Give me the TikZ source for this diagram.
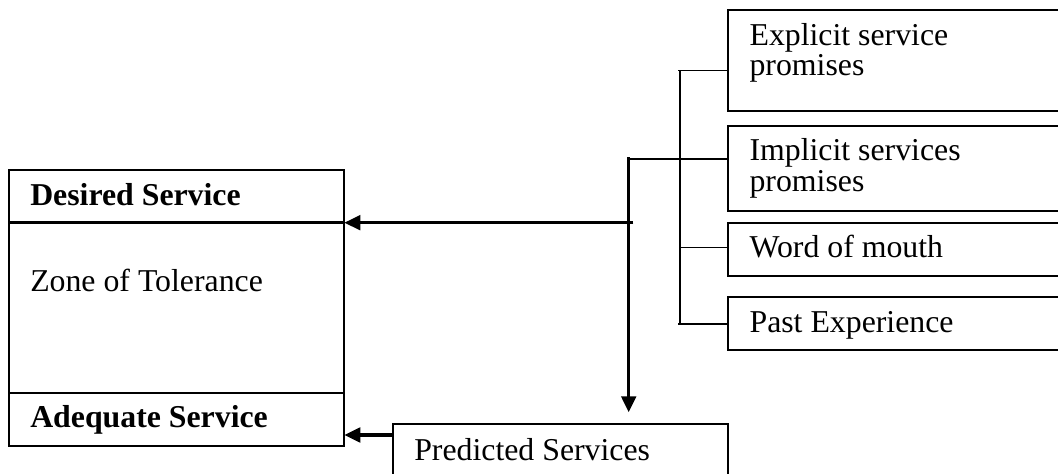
\documentclass[tikz,border=0pt]{standalone}
\usepackage{fontspec}
\setmainfont{Liberation Serif}
\usetikzlibrary{arrows.meta,calc}
\begin{document}
\begin{tikzpicture}[x=0.75pt,y=-0.75pt,
  boxst/.style={draw,line width=1.5pt,rectangle,inner sep=0pt,outer sep=0pt,anchor=north west},
  txt/.style={anchor=base west,inner sep=0pt,font=\fontsize{23.85pt}{25pt}\selectfont},
  btxt/.style={txt,font=\fontsize{23.85pt}{25pt}\selectfont\bfseries},
  thinln/.style={line width=1.1pt},
  thickln/.style={line width=2.3pt},
  arr/.style={thickln,-{Triangle[length=12pt,width=11pt]}}]
\useasboundingbox (0,0) rectangle (1058,474);
\clip (0,0) rectangle (1058,474);
% left box
\node[boxst,minimum width=251.5pt,minimum height=207pt] (L) at (9,170) {};
\draw[line width=1.8pt] (L.west |- 0,222.7) -- (L.east |- 0,222.7);
\draw[line width=1.5pt] (L.west |- 0,392.7) -- (L.east |- 0,392.7);
\node[btxt] (ds) at (30,206) {Desired Service};
\node[txt] (zt) at (30,292) {Zone of Tolerance};
\node[btxt] (as) at (30,427.5) {Adequate Service};
% right boxes
\node[boxst,minimum width=260pt,minimum height=75.5pt] (B1) at (728,10) {};
\node[boxst,minimum width=260pt,minimum height=63.5pt] (B2) at (728,126) {};
\node[boxst,minimum width=260pt,minimum height=40pt] (B3) at (728,222.7) {};
\node[boxst,minimum width=260pt,minimum height=40pt] (B4) at (728,296.7) {};
\node[txt] (t1a) at (749.3,46) {Explicit service};
\node[txt] (t1b) at (749.3,76) {promises};
\node[txt] (t2a) at (749.3,161) {Implicit services};
\node[txt] (t2b) at (749.3,191.5) {promises};
\node[txt] (t3) at (749.3,258) {Word of mouth};
\node[txt] (t4) at (749.3,332.7) {Past Experience};
% predicted box
\node[boxst,minimum width=251.7pt,minimum height=52pt] (P) at (392.7,424.3) {};
\node[txt] (pt) at (414,460) {Predicted Services};
% bracket
\coordinate (bt) at (680,70.7);
\coordinate (bb) at (680,324);
\coordinate (b3) at (680,247.7);
\coordinate (J) at (628.7,159);
\coordinate (H) at (633.3,222.7);
\coordinate (Q) at (392.7,435);
\draw[thinln] (bt) -- (bb);
\draw[thinln] ([xshift=-1.5pt]bt) -- (bt -| B1.west);
\draw[thinln] ([xshift=-1.5pt]bb) -- (bb -| B4.west);
\draw[thinln] (b3) -- (b3 -| B3.west);
\draw[thinln] (J) -- (J -| B2.west);
% thick connectors
\draw[arr] ([yshift=1.3pt]J) -- ([yshift=9pt]P.north -| J);
\draw[arr] (H) -- (H -| L.east);
\draw[arr] (Q -| P.west) -- (Q -| L.east);
\end{tikzpicture}
\end{document}
